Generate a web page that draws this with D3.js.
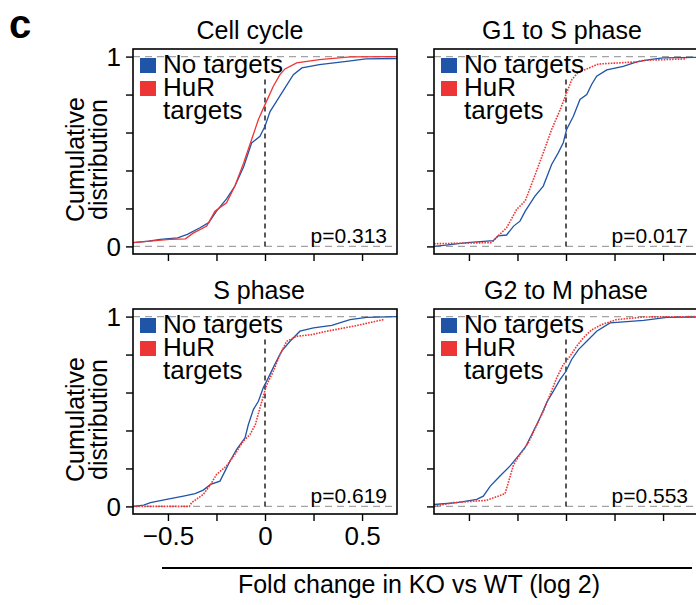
<!DOCTYPE html>
<html><head><meta charset="utf-8">
<script src="https://cdn.jsdelivr.net/npm/d3@7"></script>
<style>
body{margin:0;background:#fff;}
svg{display:block;font-family:"Liberation Sans",Arial,Helvetica,sans-serif;}
</style>
</head><body>
<svg id="chart" width="696" height="605"></svg>
<script>
// ---------- data ----------
const panelTitles = ["Cell cycle", "G1 to S phase", "S phase", "G2 to M phase"];
const pValues = ["p=0.313", "p=0.017", "p=0.619", "p=0.553"];
const seriesNames = ["No targets", "HuR targets"];
const xTicks = [-0.5, -0.25, 0, 0.25, 0.5];
const xTickLabels = ["\u22120.5", "", "0", "", "0.5"];
const yTicks = [0, 0.2, 0.4, 0.6, 0.8, 1];
const yTickLabels = ["0", "", "", "", "", "1"];
const yAxisTitle = ["Cumulative", "distribution"];
const xAxisTitle = "Fold change in KO vs WT (log 2)";
const panelLetter = "c";

// [log2 fold change, cumulative fraction]
const cellCycleNo = [[-0.68,0.02],[-0.6,0.028],[-0.54,0.037],[-0.45,0.045],[-0.40,0.063],[-0.335,0.098],[-0.29,0.125],[-0.25,0.186],[-0.198,0.25],[-0.155,0.318],[-0.11,0.42],[-0.069,0.545],[-0.026,0.58],[0,0.633],[0.026,0.71],[0.06,0.765],[0.103,0.835],[0.146,0.905],[0.19,0.94],[0.28,0.958],[0.42,0.975],[0.52,0.988],[0.68,0.99]];
const cellCycleHuR = [[-0.68,0.02],[-0.49,0.037],[-0.41,0.04],[-0.37,0.07],[-0.30,0.107],[-0.258,0.186],[-0.198,0.23],[-0.155,0.318],[-0.11,0.44],[-0.069,0.563],[-0.034,0.668],[0,0.747],[0.043,0.844],[0.077,0.905],[0.103,0.935],[0.163,0.967],[0.28,0.984],[0.44,0.998],[0.68,1.0]];
const g1sNo = [[-0.68,0],[-0.63,0.005],[-0.51,0.02],[-0.375,0.03],[-0.35,0.055],[-0.306,0.06],[-0.27,0.107],[-0.237,0.133],[-0.21,0.186],[-0.16,0.265],[-0.117,0.318],[-0.074,0.432],[-0.04,0.493],[-0.014,0.546],[0.003,0.616],[0.038,0.686],[0.072,0.774],[0.107,0.8],[0.132,0.853],[0.158,0.897],[0.21,0.93],[0.295,0.949],[0.364,0.972],[0.43,0.984],[0.5,0.993],[0.68,0.996]];
const g1sHuR = [[-0.68,0.014],[-0.383,0.02],[-0.35,0.055],[-0.306,0.098],[-0.254,0.195],[-0.21,0.24],[-0.168,0.353],[-0.117,0.493],[-0.074,0.616],[-0.03,0.72],[0,0.8],[0.03,0.879],[0.064,0.918],[0.107,0.935],[0.167,0.961],[0.364,0.972],[0.40,0.98],[0.62,0.988]];
const sPhaseNo = [[-0.68,0],[-0.625,0.007],[-0.59,0.02],[-0.507,0.037],[-0.42,0.054],[-0.36,0.067],[-0.318,0.086],[-0.28,0.116],[-0.232,0.133],[-0.206,0.186],[-0.18,0.239],[-0.146,0.3],[-0.103,0.361],[-0.086,0.43],[-0.06,0.51],[-0.034,0.554],[-0.009,0.625],[0.017,0.677],[0.05,0.747],[0.086,0.818],[0.129,0.87],[0.18,0.923],[0.25,0.94],[0.344,0.954],[0.438,0.984],[0.524,0.996],[0.68,1.0]];
const sPhaseHuR = [[-0.68,0],[-0.39,0],[-0.378,0.02],[-0.318,0.063],[-0.28,0.116],[-0.25,0.168],[-0.2,0.212],[-0.155,0.274],[-0.112,0.344],[-0.077,0.379],[-0.05,0.43],[-0.026,0.519],[0.009,0.642],[0.043,0.712],[0.077,0.8],[0.112,0.87],[0.163,0.896],[0.24,0.905],[0.318,0.923],[0.455,0.949],[0.61,0.984]];
const g2mNo = [[-0.68,0.01],[-0.56,0.02],[-0.46,0.037],[-0.426,0.054],[-0.39,0.107],[-0.34,0.16],[-0.289,0.212],[-0.254,0.256],[-0.211,0.309],[-0.168,0.396],[-0.134,0.467],[-0.1,0.546],[-0.065,0.607],[-0.031,0.668],[0,0.712],[0.029,0.774],[0.064,0.826],[0.107,0.87],[0.158,0.923],[0.227,0.967],[0.4,0.98],[0.52,0.996],[0.68,0.998]];
const g2mHuR = [[-0.68,0],[-0.58,0.02],[-0.41,0.032],[-0.314,0.067],[-0.27,0.22],[-0.237,0.274],[-0.194,0.335],[-0.15,0.43],[-0.117,0.5],[-0.082,0.589],[-0.048,0.677],[-0.014,0.747],[0.02,0.79],[0.055,0.844],[0.089,0.888],[0.132,0.93],[0.184,0.958],[0.26,0.984],[0.4,0.998],[0.68,1.0]];

const noTargetSeries = [cellCycleNo, g1sNo, sPhaseNo, g2mNo];
const hurTargetSeries = [cellCycleHuR, g1sHuR, sPhaseHuR, g2mHuR];

// ---------- layout & style ----------
const BLUE = "#1f54a6", RED = "#ee3535";
const panels = [
  {left:133, right:397, top:49,  bottom:254, yLab:true,  xLab:false, titleX:250, redDotted:false},
  {left:434, right:698, top:49,  bottom:254, yLab:false, xLab:false, titleX:562, redDotted:true},
  {left:133, right:397, top:309, bottom:514, yLab:true,  xLab:true,  titleX:259, redDotted:true},
  {left:434, right:698, top:309, bottom:514, yLab:false, xLab:false, titleX:566, redDotted:true}
];

const svg = d3.select("#chart");
svg.append("rect").attr("width",696).attr("height",605).attr("fill","#fff");

svg.append("text").attr("x",9).attr("y",38).attr("font-size",40).attr("font-weight","bold")
  .attr("fill","#000").text(panelLetter);

panels.forEach((p, i) => {
  const x = d3.scaleLinear().domain([-0.68, 0.68]).range([p.left, p.right]);
  const y = d3.scaleLinear().domain([-0.04, 1.04]).range([p.bottom, p.top]);
  const g = svg.append("g");
  const clipId = "clip" + i;
  svg.append("clipPath").attr("id", clipId).append("rect")
    .attr("x", p.left).attr("y", p.top).attr("width", p.right - p.left).attr("height", p.bottom - p.top);
  const inner = g.append("g").attr("clip-path", `url(#${clipId})`);

  // reference lines
  [0, 1].forEach(v => {
    inner.append("line").attr("x1", p.left).attr("x2", p.right).attr("y1", y(v)).attr("y2", y(v))
      .attr("stroke", "#a3a3a3").attr("stroke-width", 1.4).attr("stroke-dasharray", "7,5");
  });
  inner.append("line").attr("x1", x(0)).attr("x2", x(0)).attr("y1", y(0)).attr("y2", y(0.9))
    .attr("stroke", "#000").attr("stroke-width", 1.3).attr("stroke-dasharray", "5,4");

  const line = d3.line().x(d => x(d[0])).y(d => y(d[1]));
  inner.append("path").datum(noTargetSeries[i]).attr("d", line)
    .attr("fill", "none").attr("stroke", BLUE).attr("stroke-width", 1.3);
  inner.append("path").datum(hurTargetSeries[i]).attr("d", line)
    .attr("fill", "none").attr("stroke", RED).attr("stroke-width", p.redDotted ? 1.6 : 1.3)
    .attr("stroke-dasharray", p.redDotted ? "1.6,1.2" : null);

  // box
  g.append("rect").attr("x", p.left).attr("y", p.top).attr("width", p.right - p.left)
    .attr("height", p.bottom - p.top).attr("fill", "none").attr("stroke", "#000").attr("stroke-width", 1.6);

  // axes
  const yAxis = d3.axisLeft(y).tickValues(yTicks).tickSize(7).tickPadding(5)
    .tickFormat((d, k) => p.yLab ? yTickLabels[k] : "");
  const ya = g.append("g").attr("transform", `translate(${p.left},0)`).call(yAxis);
  const xAxis = d3.axisBottom(x).tickValues(xTicks).tickSize(7).tickPadding(4)
    .tickFormat((d, k) => p.xLab ? xTickLabels[k] : "");
  const xa = g.append("g").attr("transform", `translate(0,${p.bottom})`).call(xAxis);
  [ya, xa].forEach(a => {
    a.select(".domain").remove();
    a.selectAll(".tick line").attr("stroke", "#000").attr("stroke-width", 1.4);
    a.selectAll(".tick text").attr("fill", "#000").attr("font-size", 26)
      .attr("font-family", '"Liberation Sans",Arial,sans-serif');
  });
  ya.selectAll(".tick text").attr("dy", "0.36em");
  xa.selectAll(".tick text").attr("dy", "0.75em");

  // title
  g.append("text").attr("x", p.titleX).attr("y", p.top - 10).attr("text-anchor", "middle")
    .attr("font-size", 25).attr("fill", "#000").text(panelTitles[i]);

  // p value
  g.append("text").attr("x", p.right - 10).attr("y", y(0) - 3).attr("text-anchor", "end")
    .attr("font-size", 21).attr("fill", "#000").text(pValues[i]);

  // legend (one text block, three lines)
  const lg = g.append("g").attr("transform", `translate(${p.left + 7},${p.top + 8})`);
  lg.append("rect").attr("x", 0).attr("y", 1).attr("width", 16).attr("height", 15).attr("fill", BLUE);
  lg.append("rect").attr("x", 0).attr("y", 24).attr("width", 16).attr("height", 15).attr("fill", RED);
  const hurWords = seriesNames[1].split(" ");
  const lt = lg.append("text").attr("font-size", 26).attr("fill", "#000");
  lt.append("tspan").attr("x", 23).attr("y", 16).text(seriesNames[0]);
  lt.append("tspan").attr("x", 23).attr("y", 39).text(hurWords[0]);
  lt.append("tspan").attr("x", 23).attr("y", 62).text(hurWords[1]);

  // y axis title
  if (p.yLab) {
    const cy = (p.top + p.bottom) / 2 + 8;
    const t = g.append("text").attr("transform", `translate(84,${cy}) rotate(-90)`)
      .attr("text-anchor", "middle").attr("font-size", 25).attr("fill", "#000");
    t.append("tspan").attr("x", 0).attr("y", 0).text(yAxisTitle[0]);
    t.append("tspan").attr("x", 0).attr("y", 23).text(yAxisTitle[1]);
  }
});

// shared x-axis title
svg.append("line").attr("x1", 162).attr("x2", 692).attr("y1", 568).attr("y2", 568)
  .attr("stroke", "#000").attr("stroke-width", 2);
svg.append("text").attr("x", 419).attr("y", 593).attr("text-anchor", "middle")
  .attr("font-size", 25).attr("fill", "#000").text(xAxisTitle);
</script>
</body></html>
